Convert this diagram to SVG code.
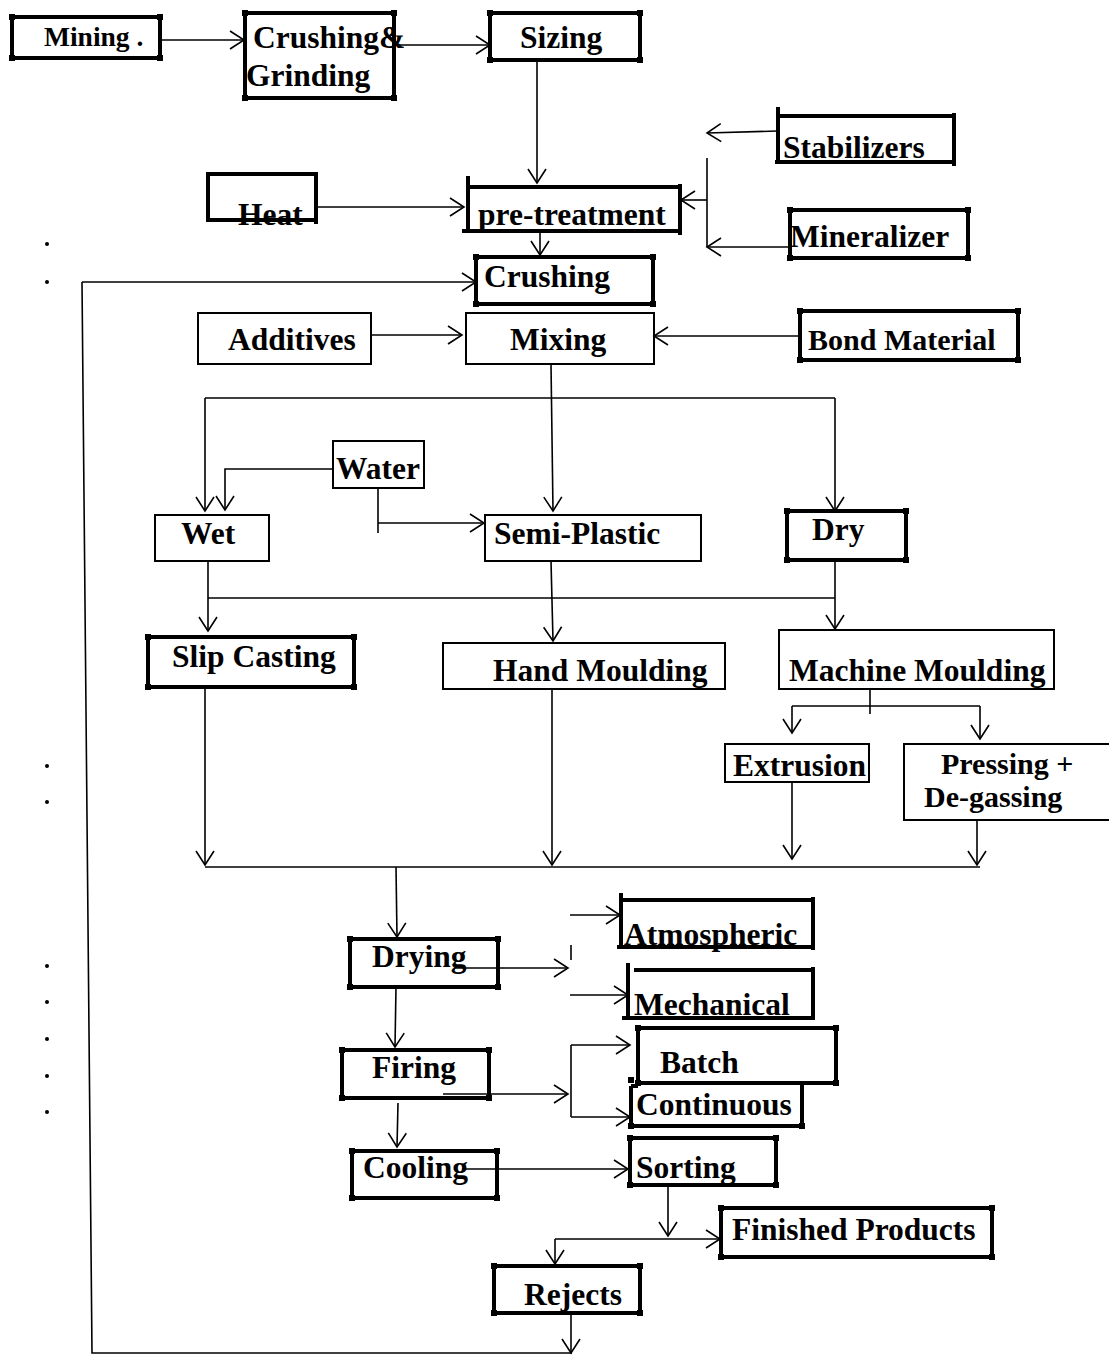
<svg xmlns="http://www.w3.org/2000/svg" width="1109" height="1355" viewBox="0 0 1109 1355">
<style>
text{font-family:"Liberation Serif","Times New Roman",serif;font-weight:bold;font-size:31.5px;fill:#000}
.tk{fill:none;stroke:#000;stroke-width:4}
.tn{fill:none;stroke:#000;stroke-width:2}
.c{fill:#000}
.ln{fill:none;stroke:#000;stroke-width:1.6}
.ar{fill:none;stroke:#000;stroke-width:1.6;marker-end:url(#a)}
</style>
<defs>
<marker id="a" markerWidth="18" markerHeight="22" refX="16" refY="11" orient="auto" markerUnits="userSpaceOnUse"><path d="M2,2 L16,11 L2,20" fill="none" stroke="#000" stroke-width="1.6"/></marker>
</defs>
<rect width="1109" height="1355" fill="#fff"/>
<g id="dots" class="c">
<circle cx="47" cy="244" r="2"/><circle cx="47" cy="282" r="2"/><circle cx="47" cy="766" r="2"/><circle cx="47" cy="802" r="2"/><circle cx="47" cy="966" r="2"/><circle cx="47" cy="1002" r="2"/><circle cx="47" cy="1039" r="2"/><circle cx="47" cy="1076" r="2"/><circle cx="47" cy="1112" r="2"/>
</g>
<g id="connectors">
<path class="ar" d="M160,40 H244"/>
<path class="ar" d="M398,45 H490"/>
<path class="ar" d="M537,60 V183"/>
<path class="ar" d="M777,131 L707,133"/>
<path class="ar" d="M790,247 H707"/>
<path class="ln" d="M707,158 V247"/>
<path class="ar" d="M707,200 H681"/>
<path class="ar" d="M316,207 H464"/>
<path class="ar" d="M540,233 V255"/>
<path class="ar" d="M82,282 H476"/>
<path class="ln" d="M82,282 L92,1353 H572"/>
<path class="ar" d="M371,335 H462"/>
<path class="ar" d="M800,336 H654"/>
<path class="ar" d="M551,364 L553,511"/>
<path class="ln" d="M205,398 H835"/>
<path class="ar" d="M205,398 V511"/>
<path class="ar" d="M835,398 V511"/>
<path class="ar" d="M333,469 H225 V510"/>
<path class="ln" d="M378,488 V533"/>
<path class="ar" d="M378,523 H484"/>
<path class="ar" d="M208,561 V631"/>
<path class="ln" d="M208,598 H835"/>
<path class="ar" d="M835,560 V629"/>
<path class="ar" d="M551,561 L553,641"/>
<path class="ln" d="M870,689 V714"/>
<path class="ln" d="M792,706 H980"/>
<path class="ar" d="M792,706 V733"/>
<path class="ar" d="M980,706 V739"/>
<path class="ar" d="M205,687 V865"/>
<path class="ar" d="M552,689 V865"/>
<path class="ar" d="M792,782 V859"/>
<path class="ar" d="M977,820 V865"/>
<path class="ln" d="M205,867 H980"/>
<path class="ar" d="M396,867 L397,937"/>
<path class="ar" d="M455,968 H568"/>
<path class="ln" d="M571,945 V960" stroke-width="1.2"/>
<path class="ar" d="M570,915 H620"/>
<path class="ar" d="M570,995 H628"/>
<path class="ar" d="M396,987 L395,1047"/>
<path class="ar" d="M443,1094 H568"/>
<path class="ln" d="M571,1045 V1117"/>
<path class="ar" d="M571,1045 H630"/>
<path class="ar" d="M571,1117 H630"/>
<path class="ar" d="M398,1103 L397,1147"/>
<path class="ar" d="M462,1169 H628"/>
<path class="ar" d="M668,1185 V1236"/>
<path class="ar" d="M555,1239 H720"/>
<path class="ar" d="M555,1239 V1264"/>
<path class="ar" d="M571,1313 V1353"/>
</g>
<g id="mining"><rect class="tk" x="12" y="17" width="148" height="41"/><g class="c"><rect x="9" y="14" width="6" height="6"/><rect x="157" y="14" width="6" height="6"/><rect x="9" y="55" width="6" height="6"/><rect x="157" y="55" width="6" height="6"/></g><text x="44" y="46" style="font-size:27.5px">Mining .</text></g>
<g id="crushgrind"><rect class="tk" x="245" y="13" width="149" height="85"/><g class="c"><rect x="242" y="10" width="6" height="6"/><rect x="391" y="10" width="6" height="6"/><rect x="242" y="95" width="6" height="6"/><rect x="391" y="95" width="6" height="6"/></g><text x="253" y="48">Crushing&amp;</text><text x="246" y="86">Grinding</text></g>
<g id="sizing"><rect class="tk" x="490" y="13" width="150" height="47"/><g class="c"><rect x="487" y="10" width="6" height="6"/><rect x="637" y="10" width="6" height="6"/><rect x="487" y="57" width="6" height="6"/><rect x="637" y="57" width="6" height="6"/></g><text x="520" y="48">Sizing</text></g>
<g id="stabilizers"><path class="tk" d="M778,107 V160 M778,116 H954 M954,113 V166 M775,162 H954"/><text x="783" y="158">Stabilizers</text></g>
<g id="mineralizer"><rect class="tk" x="790" y="210" width="178" height="48"/><g class="c"><rect x="787" y="207" width="6" height="6"/><rect x="965" y="207" width="6" height="6"/><rect x="787" y="255" width="6" height="6"/><rect x="965" y="255" width="6" height="6"/></g><text x="790" y="247">Mineralizer</text></g>
<g id="heat"><path class="tk" d="M207,174 H318 M208,172 V222 M316,172 V224 M207,220 H316"/><text x="238" y="225">Heat</text></g>
<g id="pretreatment"><path class="tk" d="M468,176 V231 M468,187 H680 M680,184 V235 M462,231 H682"/><text x="478" y="225">pre-treatment</text></g>
<g id="crushing"><rect class="tk" x="476" y="257" width="177" height="47"/><g class="c"><rect x="473" y="254" width="6" height="6"/><rect x="650" y="254" width="6" height="6"/><rect x="473" y="301" width="6" height="6"/><rect x="650" y="301" width="6" height="6"/></g><text x="484" y="287">Crushing</text></g>
<g id="additives"><rect class="tn" x="198" y="313" width="173" height="51"/><text x="228" y="350">Additives</text></g>
<g id="mixing"><rect class="tn" x="466" y="313" width="188" height="51"/><text x="510" y="350">Mixing</text></g>
<g id="bond"><rect class="tk" x="800" y="311" width="218" height="49"/><g class="c"><rect x="797" y="308" width="6" height="6"/><rect x="1015" y="308" width="6" height="6"/><rect x="797" y="357" width="6" height="6"/><rect x="1015" y="357" width="6" height="6"/></g><text x="808" y="350" style="font-size:30px">Bond Material</text></g>
<g id="water"><rect class="tn" x="333" y="441" width="91" height="47"/><text x="336" y="479">Water</text></g>
<g id="wet"><rect class="tn" x="155" y="515" width="114" height="46"/><text x="181" y="544">Wet</text></g>
<g id="semiplastic"><rect class="tn" x="485" y="515" width="216" height="46"/><text x="494" y="544">Semi-Plastic</text></g>
<g id="dry"><rect class="tk" x="787" y="511" width="119" height="49"/><g class="c"><rect x="784" y="508" width="6" height="6"/><rect x="903" y="508" width="6" height="6"/><rect x="784" y="557" width="6" height="6"/><rect x="903" y="557" width="6" height="6"/></g><text x="812" y="540">Dry</text></g>
<g id="slipcasting"><rect class="tk" x="148" y="637" width="206" height="50"/><g class="c"><rect x="145" y="634" width="6" height="6"/><rect x="351" y="634" width="6" height="6"/><rect x="145" y="684" width="6" height="6"/><rect x="351" y="684" width="6" height="6"/></g><text x="172" y="667">Slip Casting</text></g>
<g id="handmoulding"><rect class="tn" x="443" y="643" width="282" height="46"/><text x="493" y="681">Hand Moulding</text></g>
<g id="machinemoulding"><rect class="tn" x="779" y="630" width="275" height="59"/><text x="789" y="681">Machine Moulding</text></g>
<g id="extrusion"><rect class="tn" x="725" y="744" width="144" height="38"/><text x="733" y="776">Extrusion</text></g>
<g id="pressing"><rect class="tn" x="904" y="744" width="210" height="76"/><text x="941" y="774" style="font-size:30px">Pressing +</text><text x="924" y="807" style="font-size:30px">De-gassing</text></g>
<g id="drying"><rect class="tk" x="350" y="939" width="148" height="48"/><g class="c"><rect x="347" y="936" width="6" height="6"/><rect x="495" y="936" width="6" height="6"/><rect x="347" y="984" width="6" height="6"/><rect x="495" y="984" width="6" height="6"/></g><text x="372" y="967">Drying</text></g>
<g id="atmospheric"><path class="tk" d="M621,893 V946 M621,900 H813 M813,897 V950 M617,947 H813"/><text x="624" y="945">Atmospheric</text></g>
<g id="mechanical"><path class="tk" d="M628,963 V1018 M634,970 H813 M813,967 V1020 M622,1018 H813"/><text x="634" y="1015">Mechanical</text></g>
<g id="firing"><rect class="tk" x="342" y="1050" width="147" height="48"/><g class="c"><rect x="339" y="1047" width="6" height="6"/><rect x="486" y="1047" width="6" height="6"/><rect x="339" y="1095" width="6" height="6"/><rect x="486" y="1095" width="6" height="6"/></g><text x="372" y="1078">Firing</text></g>
<g id="batch"><rect class="tk" x="638" y="1028" width="198" height="55"/><g class="c"><rect x="635" y="1025" width="6" height="6"/><rect x="833" y="1025" width="6" height="6"/><rect x="635" y="1080" width="6" height="6"/><rect x="833" y="1080" width="6" height="6"/></g><text x="660" y="1073">Batch</text></g>
<g id="continuous"><path class="tk" d="M631,1086 V1126 H802 V1085 M631,1086 H638"/><g class="c"><rect x="628" y="1077" width="6" height="6"/><rect x="628" y="1123" width="6" height="6"/><rect x="799" y="1123" width="6" height="6"/></g><text x="636" y="1115">Continuous</text></g>
<g id="cooling"><rect class="tk" x="352" y="1151" width="145" height="47"/><g class="c"><rect x="349" y="1148" width="6" height="6"/><rect x="494" y="1148" width="6" height="6"/><rect x="349" y="1195" width="6" height="6"/><rect x="494" y="1195" width="6" height="6"/></g><text x="363" y="1178">Cooling</text></g>
<g id="sorting"><rect class="tk" x="630" y="1138" width="146" height="47"/><g class="c"><rect x="627" y="1135" width="6" height="6"/><rect x="773" y="1135" width="6" height="6"/><rect x="627" y="1182" width="6" height="6"/><rect x="773" y="1182" width="6" height="6"/></g><text x="636" y="1178">Sorting</text></g>
<g id="finished"><rect class="tk" x="721" y="1208" width="271" height="49"/><g class="c"><rect x="718" y="1205" width="6" height="6"/><rect x="989" y="1205" width="6" height="6"/><rect x="718" y="1254" width="6" height="6"/><rect x="989" y="1254" width="6" height="6"/></g><text x="732" y="1240">Finished Products</text></g>
<g id="rejects"><rect class="tk" x="494" y="1266" width="146" height="47"/><g class="c"><rect x="491" y="1263" width="6" height="6"/><rect x="637" y="1263" width="6" height="6"/><rect x="491" y="1310" width="6" height="6"/><rect x="637" y="1310" width="6" height="6"/></g><text x="524" y="1305">Rejects</text></g>
</svg>
